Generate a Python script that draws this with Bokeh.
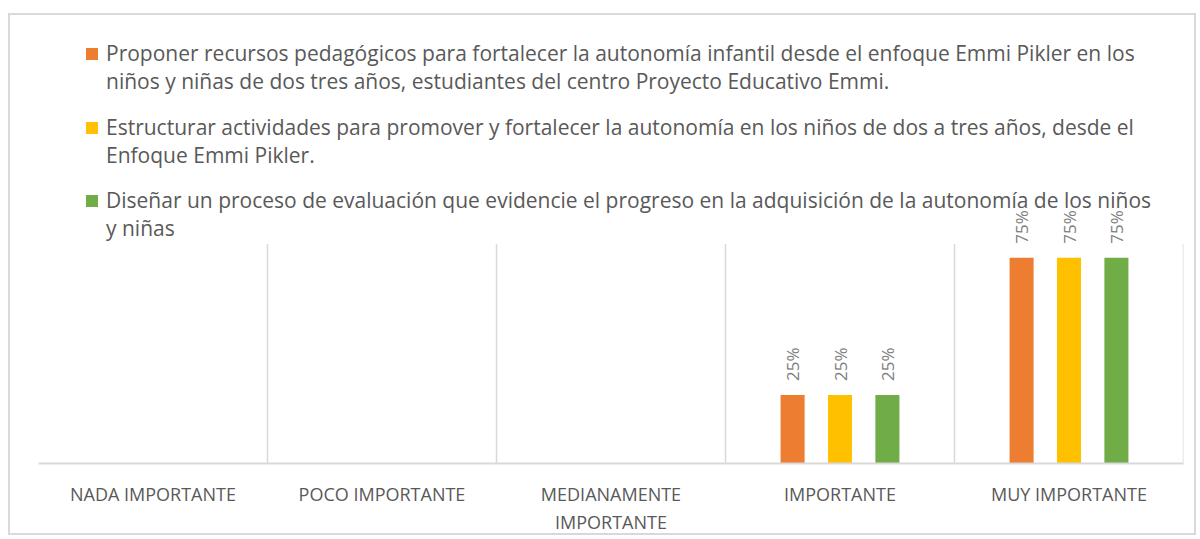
import math
from bokeh.plotting import figure
from bokeh.models import (FactorRange, Range1d, ColumnDataSource, Legend, LegendItem,
                          Label)
from bokeh.transform import dodge
from bokeh.embed import file_html
from bokeh.resources import INLINE

categories = ["NADA IMPORTANTE", "POCO IMPORTANTE", "MEDIANAMENTE\nIMPORTANTE",
              "IMPORTANTE", "MUY IMPORTANTE"]
# each legend label as it wraps in the reference (two lines)
series_names = [
    ["Proponer recursos pedagógicos para fortalecer la autonomía infantil desde el enfoque Emmi Pikler en los",
     "niños y niñas de dos tres años, estudiantes del centro Proyecto Educativo Emmi."],
    ["Estructurar actividades para promover y fortalecer la autonomía en los niños de dos a tres años, desde el",
     "Enfoque Emmi Pikler."],
    ["Diseñar un proceso de evaluación que evidencie el progreso en la adquisición de la autonomía de los niños",
     "y niñas"],
]
proponer = [0, 0, 0, 0.25, 0.75]
estructurar = [0, 0, 0, 0.25, 0.75]
disenar = [0, 0, 0, 0.25, 0.75]
series_values = [proponer, estructurar, disenar]
colors = ["#ED7D31", "#FFC000", "#70AD47"]
offsets = [-0.207, 0.0, 0.207]
bar_width = 0.105

AXIS_MAX = 0.8          # value axis maximum (top of the category separators)
FRAME_PX = 451          # plot frame height in pixels
AXIS_PX = 221           # pixels used by the 0..AXIS_MAX value axis
LEGEND_BOTTOMS = [368, 294, 221]   # screen offsets of each legend block above frame bottom

FONT = "Open Sans"

p = figure(x_range=FactorRange(factors=categories),
           y_range=Range1d(0, AXIS_MAX * FRAME_PX / AXIS_PX),
           width=1188, height=522, output_backend="svg", toolbar_location=None,
           min_border_left=28, min_border_right=15, min_border_top=0, min_border_bottom=71)
p.styles = {"border": "2px solid #d9d9d9", "margin-top": "13px", "margin-left": "8px"}
p.outline_line_color = None
p.background_fill_color = "white"
p.border_fill_color = "white"

# category separators (drawn at category boundaries, up to the value-axis max)
sep_x = [i + 1 for i in range(len(categories))]
p.segment(x0=sep_x, y0=[0] * len(sep_x), x1=sep_x, y1=[AXIS_MAX] * len(sep_x),
          line_color="#d9d9d9", line_width=1.5)

renderers = []
for vals, col, off in zip(series_values, colors, offsets):
    src = ColumnDataSource(dict(cat=categories, val=vals))
    r = p.vbar(x=dodge("cat", off, range=p.x_range), top="val", width=bar_width,
               source=src, fill_color=col, line_color=None)
    renderers.append(r)
    for i, v in enumerate(vals):
        if v > 0:
            p.add_layout(Label(x=i + 0.5 + off, y=v, text=f"{round(v * 100)}%",
                               angle=math.pi / 2, y_offset=14,
                               text_align="left", text_baseline="middle",
                               text_color="#808080", text_font=FONT,
                               text_font_size="17px"))

p.xgrid.visible = False
p.ygrid.visible = False
p.yaxis.visible = False

ax = p.xaxis[0]
ax.axis_line_color = "#d9d9d9"
ax.axis_line_width = 2
ax.major_tick_line_color = None
ax.minor_tick_line_color = None
ax.major_label_text_color = "#595959"
ax.major_label_text_font = FONT
ax.major_label_text_font_size = "18px"
ax.major_label_standoff = 12

for lines, r, yb in zip(series_names, renderers, LEGEND_BOTTOMS):
    items = [LegendItem(label=lines[0], renderers=[r]),
             LegendItem(label=lines[1], renderers=[])]
    lg = Legend(items=items, location=(46, yb), orientation="vertical",
                margin=0, padding=0, spacing=0, label_standoff=7,
                glyph_width=15, glyph_height=15, label_height=28,
                border_line_color=None, background_fill_alpha=0,
                label_text_font=FONT, label_text_font_size="21px",
                label_text_color="#595959")
    p.add_layout(lg, "center")

open("out.html", "w").write(file_html(p, INLINE))
